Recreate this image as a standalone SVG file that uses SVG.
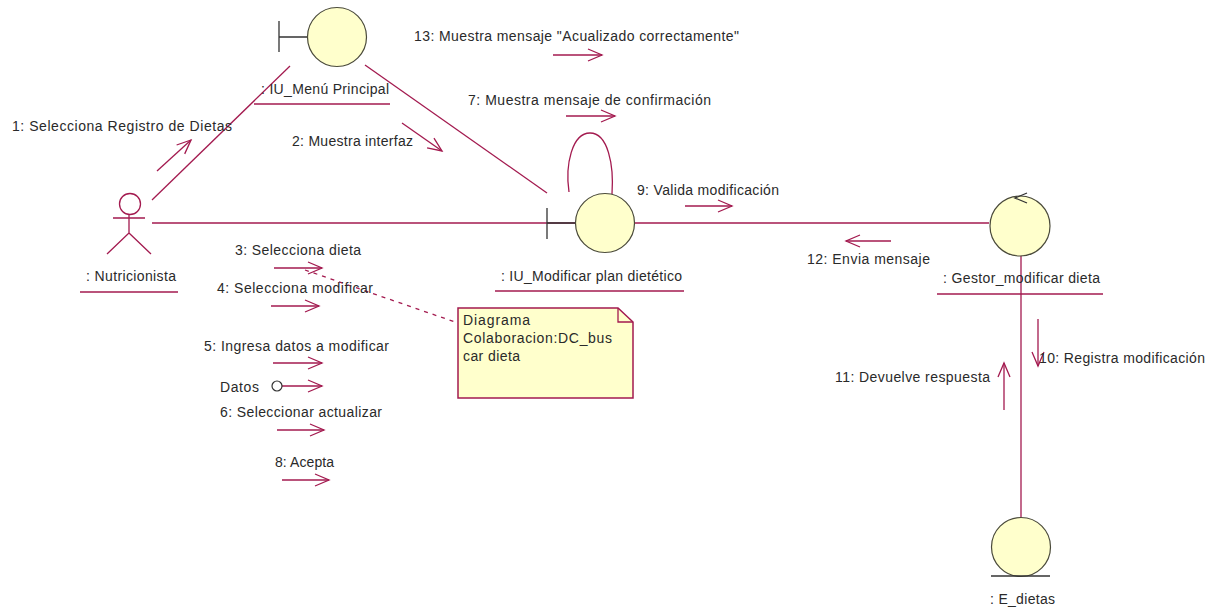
<svg xmlns="http://www.w3.org/2000/svg" width="1216" height="612" viewBox="0 0 1216 612">
<style>
text{font-family:"Liberation Sans",Arial,sans-serif;font-size:14px;fill:#2a2a2a}
.c{fill:none;stroke:#a31a4f;stroke-width:1.3}
.m{fill:none;stroke:#a31a4f;stroke-width:1.3;marker-end:url(#open)}
.o{fill:#ffffcc;stroke:#4a4a3a;stroke-width:1.2}
.b{fill:none;stroke:#333;stroke-width:1.3}
.d{fill:none;stroke:#a31a4f;stroke-width:1.3;stroke-dasharray:4 5}
.n{fill:#ffffcc;stroke:#a31a4f;stroke-width:1.5}
</style>
<defs>
<marker id="open" markerUnits="userSpaceOnUse" markerWidth="18" markerHeight="16" refX="15" refY="8" orient="auto" overflow="visible">
<path d="M1,2 L15,8 L1,14" fill="none" stroke="#a31a4f" stroke-width="1.3"/>
</marker>
</defs>
<rect width="1216" height="612" fill="#fff"/>
<g id="connectors">
<path class="c" d="M152,200 L290,66"/>
<path class="c" d="M365,65 L547,193"/>
<path class="c" d="M152,223 L576,223"/>
<path class="c" d="M634,223 L989,223"/>
<path class="c" d="M1021,255 L1021,517"/>
<path class="c" d="M569,192 C565,165 572,133 590,133 C608,133 614,165 612,194"/>
<path class="d" d="M305,270 L455,322"/>
</g>
<g id="messages">
<path class="m" d="M157,171 L191,140"/>
<path class="m" d="M402,123 L442,151"/>
<path class="m" d="M553,55 L602,55"/>
<path class="m" d="M566,116 L615,116"/>
<path class="m" d="M685,206 L732,206"/>
<path class="m" d="M891,241 L846,241"/>
<path class="m" d="M274,268 L322,268"/>
<path class="m" d="M271,306 L319,306"/>
<path class="m" d="M273,363 L322,363"/>
<path class="m" d="M282,386 L322,386"/>
<circle cx="277" cy="386" r="5" fill="#fff" stroke="#333" stroke-width="1.2"/>
<path class="m" d="M277,430 L324,430"/>
<path class="m" d="M282,480 L329,480"/>
<path class="m" d="M1038,319 L1038,366"/>
<path class="m" d="M1004,410 L1004,363"/>
<text x="12" y="131" textLength="220">1: Selecciona Registro de Dietas</text>
<text x="292" y="146" textLength="121">2: Muestra interfaz</text>
<text x="235" y="255" textLength="126">3: Selecciona dieta</text>
<text x="217" y="293" textLength="156">4: Selecciona modificar</text>
<text x="204" y="351" textLength="185">5: Ingresa datos a modificar</text>
<text x="220" y="392" textLength="39">Datos</text>
<text x="220" y="417" textLength="162">6: Seleccionar actualizar</text>
<text x="468" y="105" textLength="243">7: Muestra mensaje de confirmación</text>
<text x="275" y="467" textLength="59">8: Acepta</text>
<text x="637" y="195" textLength="142">9: Valida modificación</text>
<text x="1039" y="363" textLength="166">10: Registra modificación</text>
<text x="835" y="382" textLength="155">11: Devuelve respuesta</text>
<text x="807" y="264" textLength="123">12: Envia mensaje</text>
<text x="414" y="41" textLength="325">13: Muestra mensaje "Acualizado correctamente"</text>
</g>
<g id="actor-nutricionista">
<circle cx="130" cy="204" r="10.5" fill="#fff" stroke="#a31a4f" stroke-width="1.3"/>
<path class="c" d="M113,218 L145,218 M129,214 L129,233 L107,254 M129,233 L151,254"/>
<text x="86" y="281" textLength="90">: Nutricionista</text>
<path class="c" d="M80,292 L178,292"/>
</g>
<g id="iu-menu-principal">
<path class="b" d="M279,21 L279,52 M279,37 L308,37"/>
<circle class="o" cx="337" cy="37" r="29.5"/>
<text x="261" y="94" textLength="128">: IU_Menú Principal</text>
<path class="c" d="M254,104 L390,104"/>
</g>
<g id="iu-modificar-plan">
<path class="b" d="M547,208 L547,239 M547,223 L576,223"/>
<circle class="o" cx="605" cy="223" r="29.5"/>
<text x="501" y="281" textLength="181">: IU_Modificar plan dietético</text>
<path class="c" d="M495,291 L684,291"/>
</g>
<g id="gestor-modificar-dieta">
<circle class="o" cx="1020" cy="226" r="30"/>
<path class="b" d="M1027,193 L1015,198 L1027,203"/>
<text x="943" y="283" textLength="157">: Gestor_modificar dieta</text>
<path class="c" d="M937,294 L1103,294"/>
</g>
<g id="e-dietas">
<circle class="o" cx="1021" cy="547" r="29.5"/>
<path class="b" d="M991,576 L1050,576"/>
<text x="990" y="604" textLength="65">: E_dietas</text>
</g>
<g id="note">
<path class="n" d="M458,308 L618,308 L633,322 L633,398 L458,398 Z"/>
<path class="c" d="M618,308 L618,322 L633,322"/>
<text x="463" y="325" textLength="67">Diagrama</text>
<text x="463" y="343" textLength="149">Colaboracion:DC_bus</text>
<text x="463" y="361" textLength="57">car dieta</text>
</g>
</svg>
